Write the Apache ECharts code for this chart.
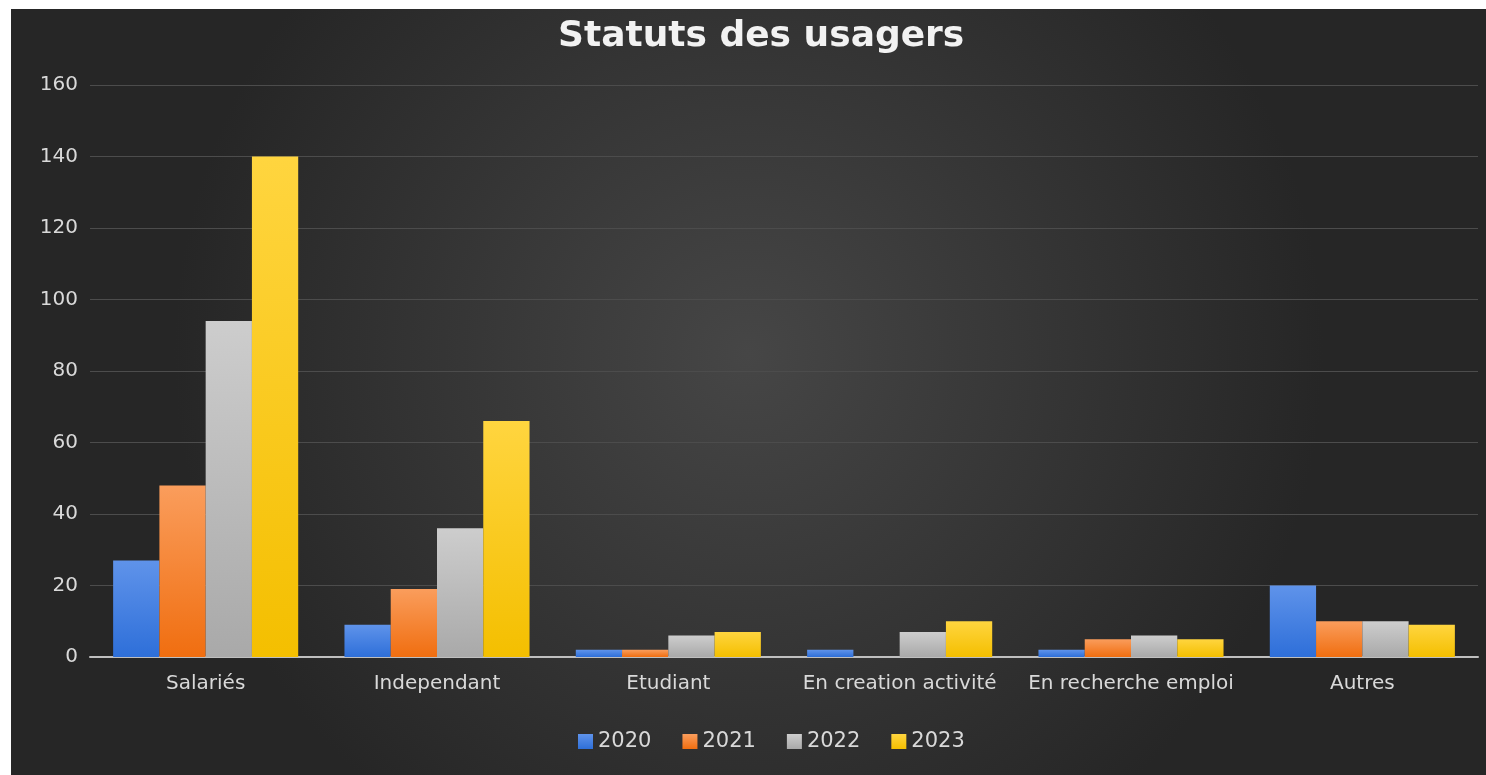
<!DOCTYPE html>
<html>
<head>
<meta charset="utf-8">
<script src="https://cdn.jsdelivr.net/npm/echarts@6/dist/echarts.min.js"></script>
<style>
  html, body { margin: 0; padding: 0; background: #ffffff; width: 1486px; height: 775px; overflow: hidden; }
  #chart { position: absolute; left: 11px; top: 9px; width: 1475px; height: 766px; }
</style>
</head>
<body>
<div id="chart"></div>
<script>
const categories = ['Salariés', 'Independant', 'Etudiant', 'En creation activité', 'En recherche emploi', 'Autres'];
const years = ['2020', '2021', '2022', '2023'];
const v2020 = [27, 9, 2, 2, 2, 20];
const v2021 = [48, 19, 2, 0, 5, 10];
const v2022 = [94, 36, 6, 7, 6, 10];
const v2023 = [140, 66, 7, 10, 5, 9];
const yTicks = { min: 0, max: 160, interval: 20 };

const seriesValues = [v2020, v2021, v2022, v2023];
const colors = [
  ['#5f93ea', '#2e6fd9'],
  ['#fa9d5c', '#f06e10'],
  ['#cdcdcd', '#a9a9a9'],
  ['#ffd53f', '#f4bf00']
];
const FONT = 'DejaVu Sans, Liberation Sans, Arial, sans-serif';

const chart = echarts.init(document.getElementById('chart'));
chart.setOption({
  backgroundColor: new echarts.graphic.RadialGradient(0.5, 0.45, 0.75, [
    { offset: 0, color: '#464646' },
    { offset: 1, color: '#262626' }
  ]),
  animation: false,
  title: {
    text: 'Statuts des usagers',
    left: 542,
    top: 5,
    textStyle: { color: '#f2f2f2', fontSize: 36, fontWeight: 'bold', fontFamily: FONT }
  },
  legend: {
    data: years,
    bottom: 18,
    left: 562,
    itemWidth: 15,
    itemHeight: 15,
    itemGap: 31,
    icon: 'rect',
    textStyle: { color: '#d9d9d9', fontSize: 21, fontFamily: FONT }
  },
  grid: { left: 79, right: 8, top: 76, bottom: 118 },
  xAxis: {
    type: 'category',
    data: categories,
    axisLine: { lineStyle: { color: '#bfbfbf', width: 2 } },
    axisTick: { show: false },
    axisLabel: { color: '#d9d9d9', fontSize: 20, margin: 17, fontFamily: FONT, interval: 0 }
  },
  yAxis: {
    type: 'value',
    min: yTicks.min,
    max: yTicks.max,
    interval: yTicks.interval,
    axisLine: { show: false },
    axisTick: { show: false },
    axisLabel: { color: '#d9d9d9', fontSize: 20, margin: 12, fontFamily: FONT },
    splitLine: { lineStyle: { color: '#4c4c4c', width: 1 } }
  },
  series: years.map((y, i) => ({
    name: y,
    type: 'bar',
    data: seriesValues[i],
    barGap: '0%',
    barCategoryGap: '20%',
    itemStyle: {
      color: new echarts.graphic.LinearGradient(0, 0, 0, 1, [
        { offset: 0, color: colors[i][0] },
        { offset: 1, color: colors[i][1] }
      ])
    }
  }))
});
</script>
</body>
</html>
